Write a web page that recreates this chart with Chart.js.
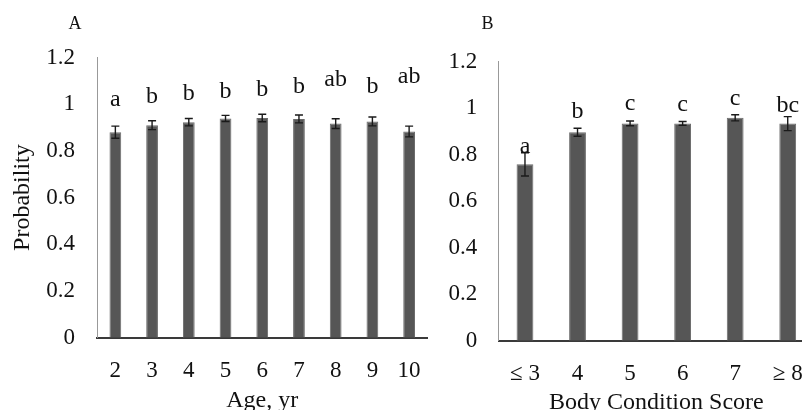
<!DOCTYPE html>
<html>
<head>
<meta charset="utf-8">
<script src="https://cdn.jsdelivr.net/npm/chart.js@4.4.1/dist/chart.umd.min.js"></script>
<style>
  html, body { margin: 0; padding: 0; background: #fff; overflow: hidden; width: 802px; height: 410px; }
  #a { position: absolute; left: 0; top: 0; }
  #b { position: absolute; left: 440px; top: 0; }
</style>
</head>
<body>
<canvas id="a" width="440" height="410"></canvas>
<canvas id="b" width="400" height="410"></canvas>
<script>
"use strict";

const ages = ["2", "3", "4", "5", "6", "7", "8", "9", "10"];
const ageProb = [0.880, 0.910, 0.923, 0.939, 0.941, 0.937, 0.917, 0.926, 0.883];
const ageErr = [0.026, 0.019, 0.016, 0.013, 0.016, 0.017, 0.021, 0.019, 0.023];
const ageLetters = ["a", "b", "b", "b", "b", "b", "ab", "b", "ab"];
const ageLetterY = [0.991, 1.006, 1.017, 1.027, 1.034, 1.049, 1.077, 1.049, 1.092];

const bcs = ["≤ 3", "4", "5", "6", "7", "≥ 8"];
const bcsProb = [0.758, 0.896, 0.934, 0.934, 0.958, 0.933];
const bcsErr = [0.050, 0.017, 0.010, 0.008, 0.013, 0.030];
const bcsLetters = ["a", "b", "c", "c", "c", "bc"];
const bcsLetterY = [0.805, 0.956, 0.991, 0.988, 1.013, 0.984];

const yTicks = ["0", "0.2", "0.4", "0.6", "0.8", "1", "1.2"];

const serif = "'Liberation Serif', 'Times New Roman', serif";

// error bars, significance letters and the panel letter
const marks = {
  id: "marks",
  afterDatasetsDraw(chart, args, opts) {
    const ctx = chart.ctx;
    const y = chart.scales.y;
    const bars = chart.getDatasetMeta(0).data;
    ctx.save();
    ctx.strokeStyle = "#1a1a1a";
    ctx.lineWidth = 1.4;
    bars.forEach((bar, i) => {
      const v = opts.values[i];
      const e = opts.errors[i];
      const top = y.getPixelForValue(v + e);
      const bot = y.getPixelForValue(v - e);
      ctx.beginPath();
      ctx.moveTo(bar.x, top);
      ctx.lineTo(bar.x, bot);
      ctx.moveTo(bar.x - 4, top);
      ctx.lineTo(bar.x + 4, top);
      ctx.moveTo(bar.x - 4, bot);
      ctx.lineTo(bar.x + 4, bot);
      ctx.stroke();
    });
    ctx.fillStyle = "#111";
    ctx.font = "24px " + serif;
    ctx.textAlign = "center";
    ctx.textBaseline = "alphabetic";
    bars.forEach((bar, i) => {
      ctx.fillText(opts.letters[i], bar.x, y.getPixelForValue(opts.letterY[i]));
    });
    ctx.font = "18px " + serif;
    ctx.fillText(opts.panel, opts.panelX, 29);
    ctx.restore();
  },
};

function makeChart(id, labels, values, errors, letters, letterY, o) {
  return new Chart(document.getElementById(id), {
    type: "bar",
    data: {
      labels: labels,
      datasets: [
        {
          data: values,
          backgroundColor: "#565656",
          borderColor: "#6b6b6b",
          borderWidth: 1,
          barPercentage: 0.32,
          categoryPercentage: 1,
        },
      ],
    },
    options: {
      responsive: false,
      animation: false,
      devicePixelRatio: 1,
      layout: { padding: { top: o.top, right: o.right, left: 0, bottom: 0 } },
      plugins: {
        legend: { display: false },
        tooltip: { enabled: false },
        marks: {
          values: values,
          errors: errors,
          letters: letters,
          letterY: letterY,
          panel: o.panel,
          panelX: o.panelX,
        },
      },
      scales: {
        x: {
          grid: { display: false, drawTicks: false },
          border: { display: true, color: "#3a3a3a", width: 2 },
          ticks: { font: { family: serif, size: 23 }, color: "#111", padding: 19, maxRotation: 0, autoSkip: false },
          title: {
            display: true,
            text: o.xTitle,
            font: { family: serif, size: 24, lineHeight: 1 },
            color: "#111",
            padding: { top: 0, bottom: o.xTitlePad },
          },
          afterFit(s) { s.height = o.xHeight; },
        },
        y: {
          min: 0,
          max: 1.2,
          ticks: {
            stepSize: 0.2,
            callback: (v, i) => yTicks[i],
            font: { family: serif, size: 23 },
            color: "#111",
            padding: o.yPad,
          },
          grid: { display: false, drawTicks: false },
          border: { display: true, color: "#999", width: 1 },
          title: {
            display: !!o.yTitle,
            text: o.yTitle || "",
            font: { family: serif, size: 24, lineHeight: 1 },
            color: "#111",
            padding: { top: 11, bottom: 0 },
          },
          afterFit(s) { s.width = o.yWidth; },
        },
      },
    },
    plugins: [marks],
  });
}

makeChart("a", ages, ageProb, ageErr, ageLetters, ageLetterY, {
  top: 57.5, right: 6.8, xHeight: 72.3, yWidth: 97, yPad: 22,
  xTitle: "Age, yr", xTitlePad: -3, yTitle: "Probability",
  panel: "A", panelX: 75,
});

makeChart("b", bcs, bcsProb, bcsErr, bcsLetters, bcsLetterY, {
  top: 61.5, right: 26, xHeight: 69.3, yWidth: 58.7, yPad: 21.4,
  xTitle: "Body Condition Score", xTitlePad: -5, yTitle: "",
  panel: "B", panelX: 47.5,
});
</script>
</body>
</html>
